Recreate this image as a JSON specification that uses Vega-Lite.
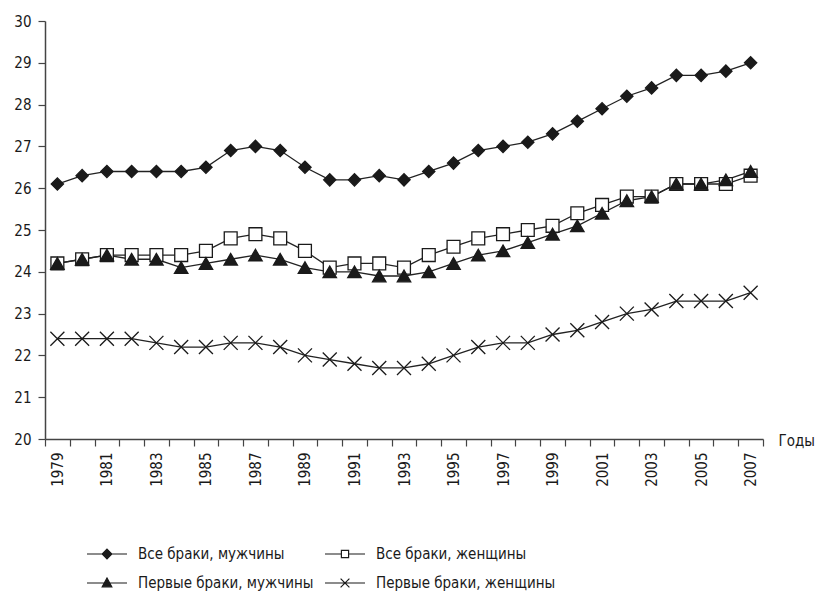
{
  "$schema": "https://vega.github.io/schema/vega-lite/v6.json",
  "autosize": {"type": "none"},
  "width": 718,
  "height": 418,
  "padding": {"left": 45, "top": 21, "right": 58, "bottom": 160},
  "background": "#ffffff",
  "config": {
    "font": "DejaVu Sans Condensed, Liberation Sans Narrow, sans-serif",
    "view": {"stroke": null},
    "axis": {"labelFont": "DejaVu Sans Condensed, Liberation Sans Narrow, sans-serif", "labelFontSize": 15, "labelColor": "#1a1a1a", "domainColor": "#444444", "tickColor": "#444444", "domainWidth": 1.5, "tickWidth": 1.2, "grid": false},
    "legend": {"labelFont": "DejaVu Sans Condensed, Liberation Sans Narrow, sans-serif", "labelFontSize": 15, "labelColor": "#1a1a1a", "labelLimit": 400, "symbolStrokeColor": "#1a1a1a", "symbolStrokeWidth": 1.2}
  },
  "data": {"values": [
    {"year":1979,"series":"Все браки, мужчины","value":26.1},{"year":1980,"series":"Все браки, мужчины","value":26.3},{"year":1981,"series":"Все браки, мужчины","value":26.4},{"year":1982,"series":"Все браки, мужчины","value":26.4},{"year":1983,"series":"Все браки, мужчины","value":26.4},{"year":1984,"series":"Все браки, мужчины","value":26.4},{"year":1985,"series":"Все браки, мужчины","value":26.5},{"year":1986,"series":"Все браки, мужчины","value":26.9},{"year":1987,"series":"Все браки, мужчины","value":27.0},{"year":1988,"series":"Все браки, мужчины","value":26.9},{"year":1989,"series":"Все браки, мужчины","value":26.5},{"year":1990,"series":"Все браки, мужчины","value":26.2},{"year":1991,"series":"Все браки, мужчины","value":26.2},{"year":1992,"series":"Все браки, мужчины","value":26.3},{"year":1993,"series":"Все браки, мужчины","value":26.2},{"year":1994,"series":"Все браки, мужчины","value":26.4},{"year":1995,"series":"Все браки, мужчины","value":26.6},{"year":1996,"series":"Все браки, мужчины","value":26.9},{"year":1997,"series":"Все браки, мужчины","value":27.0},{"year":1998,"series":"Все браки, мужчины","value":27.1},{"year":1999,"series":"Все браки, мужчины","value":27.3},{"year":2000,"series":"Все браки, мужчины","value":27.6},{"year":2001,"series":"Все браки, мужчины","value":27.9},{"year":2002,"series":"Все браки, мужчины","value":28.2},{"year":2003,"series":"Все браки, мужчины","value":28.4},{"year":2004,"series":"Все браки, мужчины","value":28.7},{"year":2005,"series":"Все браки, мужчины","value":28.7},{"year":2006,"series":"Все браки, мужчины","value":28.8},{"year":2007,"series":"Все браки, мужчины","value":29.0},
    {"year":1979,"series":"Все браки, женщины","value":24.2},{"year":1980,"series":"Все браки, женщины","value":24.3},{"year":1981,"series":"Все браки, женщины","value":24.4},{"year":1982,"series":"Все браки, женщины","value":24.4},{"year":1983,"series":"Все браки, женщины","value":24.4},{"year":1984,"series":"Все браки, женщины","value":24.4},{"year":1985,"series":"Все браки, женщины","value":24.5},{"year":1986,"series":"Все браки, женщины","value":24.8},{"year":1987,"series":"Все браки, женщины","value":24.9},{"year":1988,"series":"Все браки, женщины","value":24.8},{"year":1989,"series":"Все браки, женщины","value":24.5},{"year":1990,"series":"Все браки, женщины","value":24.1},{"year":1991,"series":"Все браки, женщины","value":24.2},{"year":1992,"series":"Все браки, женщины","value":24.2},{"year":1993,"series":"Все браки, женщины","value":24.1},{"year":1994,"series":"Все браки, женщины","value":24.4},{"year":1995,"series":"Все браки, женщины","value":24.6},{"year":1996,"series":"Все браки, женщины","value":24.8},{"year":1997,"series":"Все браки, женщины","value":24.9},{"year":1998,"series":"Все браки, женщины","value":25.0},{"year":1999,"series":"Все браки, женщины","value":25.1},{"year":2000,"series":"Все браки, женщины","value":25.4},{"year":2001,"series":"Все браки, женщины","value":25.6},{"year":2002,"series":"Все браки, женщины","value":25.8},{"year":2003,"series":"Все браки, женщины","value":25.8},{"year":2004,"series":"Все браки, женщины","value":26.1},{"year":2005,"series":"Все браки, женщины","value":26.1},{"year":2006,"series":"Все браки, женщины","value":26.1},{"year":2007,"series":"Все браки, женщины","value":26.3},
    {"year":1979,"series":"Первые браки, мужчины","value":24.2},{"year":1980,"series":"Первые браки, мужчины","value":24.3},{"year":1981,"series":"Первые браки, мужчины","value":24.4},{"year":1982,"series":"Первые браки, мужчины","value":24.3},{"year":1983,"series":"Первые браки, мужчины","value":24.3},{"year":1984,"series":"Первые браки, мужчины","value":24.1},{"year":1985,"series":"Первые браки, мужчины","value":24.2},{"year":1986,"series":"Первые браки, мужчины","value":24.3},{"year":1987,"series":"Первые браки, мужчины","value":24.4},{"year":1988,"series":"Первые браки, мужчины","value":24.3},{"year":1989,"series":"Первые браки, мужчины","value":24.1},{"year":1990,"series":"Первые браки, мужчины","value":24.0},{"year":1991,"series":"Первые браки, мужчины","value":24.0},{"year":1992,"series":"Первые браки, мужчины","value":23.9},{"year":1993,"series":"Первые браки, мужчины","value":23.9},{"year":1994,"series":"Первые браки, мужчины","value":24.0},{"year":1995,"series":"Первые браки, мужчины","value":24.2},{"year":1996,"series":"Первые браки, мужчины","value":24.4},{"year":1997,"series":"Первые браки, мужчины","value":24.5},{"year":1998,"series":"Первые браки, мужчины","value":24.7},{"year":1999,"series":"Первые браки, мужчины","value":24.9},{"year":2000,"series":"Первые браки, мужчины","value":25.1},{"year":2001,"series":"Первые браки, мужчины","value":25.4},{"year":2002,"series":"Первые браки, мужчины","value":25.7},{"year":2003,"series":"Первые браки, мужчины","value":25.8},{"year":2004,"series":"Первые браки, мужчины","value":26.1},{"year":2005,"series":"Первые браки, мужчины","value":26.1},{"year":2006,"series":"Первые браки, мужчины","value":26.2},{"year":2007,"series":"Первые браки, мужчины","value":26.4},
    {"year":1979,"series":"Первые браки, женщины","value":22.4},{"year":1980,"series":"Первые браки, женщины","value":22.4},{"year":1981,"series":"Первые браки, женщины","value":22.4},{"year":1982,"series":"Первые браки, женщины","value":22.4},{"year":1983,"series":"Первые браки, женщины","value":22.3},{"year":1984,"series":"Первые браки, женщины","value":22.2},{"year":1985,"series":"Первые браки, женщины","value":22.2},{"year":1986,"series":"Первые браки, женщины","value":22.3},{"year":1987,"series":"Первые браки, женщины","value":22.3},{"year":1988,"series":"Первые браки, женщины","value":22.2},{"year":1989,"series":"Первые браки, женщины","value":22.0},{"year":1990,"series":"Первые браки, женщины","value":21.9},{"year":1991,"series":"Первые браки, женщины","value":21.8},{"year":1992,"series":"Первые браки, женщины","value":21.7},{"year":1993,"series":"Первые браки, женщины","value":21.7},{"year":1994,"series":"Первые браки, женщины","value":21.8},{"year":1995,"series":"Первые браки, женщины","value":22.0},{"year":1996,"series":"Первые браки, женщины","value":22.2},{"year":1997,"series":"Первые браки, женщины","value":22.3},{"year":1998,"series":"Первые браки, женщины","value":22.3},{"year":1999,"series":"Первые браки, женщины","value":22.5},{"year":2000,"series":"Первые браки, женщины","value":22.6},{"year":2001,"series":"Первые браки, женщины","value":22.8},{"year":2002,"series":"Первые браки, женщины","value":23.0},{"year":2003,"series":"Первые браки, женщины","value":23.1},{"year":2004,"series":"Первые браки, женщины","value":23.3},{"year":2005,"series":"Первые браки, женщины","value":23.3},{"year":2006,"series":"Первые браки, женщины","value":23.3},{"year":2007,"series":"Первые браки, женщины","value":23.5}
  ]},
  "encoding": {
    "x": {
      "field": "year", "type": "ordinal",
      "scale": {"type": "band", "paddingInner": 0, "paddingOuter": 0},
      "axis": {
        "title": "Годы", "titleFont": "DejaVu Sans Condensed, Liberation Sans Narrow, sans-serif", "titleFontSize": 15, "titleFontWeight": "normal", "titleColor": "#1a1a1a",
        "titleX": 733, "titleY": 1, "titleAlign": "left", "titleBaseline": "middle", "titleAngle": 0,
        "tickBand": "extent", "tickSize": 7, "labelAngle": -90, "labelAlign": "right", "labelBaseline": "middle", "labelPadding": 6,
        "labelExpr": "datum.value % 2 == 1 ? datum.label : ''"
      }
    },
    "y": {
      "field": "value", "type": "quantitative",
      "scale": {"domain": [20, 30], "nice": false, "zero": false},
      "axis": {"title": null, "values": [20,21,22,23,24,25,26,27,28,29,30], "tickSize": 7, "labelPadding": 7}
    }
  },
  "resolve": {"scale": {"shape": "independent", "fill": "independent", "size": "independent", "stroke": "independent"}},
  "layer": [
    {
      "mark": {"type": "line", "stroke": "#222222", "strokeWidth": 1.3},
      "encoding": {"detail": {"field": "series", "type": "nominal"}}
    },
    {
      "mark": {"type": "point", "filled": true, "stroke": "#1a1a1a", "strokeWidth": 1.3, "opacity": 1},
      "encoding": {
        "shape": {
          "field": "series", "type": "nominal",
          "scale": {"domain": ["Первые браки, женщины", "Первые браки, мужчины", "Все браки, женщины", "Все браки, мужчины"], "range": ["M-1,-1L1,1M-1,1L1,-1", "triangle-up", "square", "diamond"]},
          "legend": null
        },
        "fill": {
          "field": "series", "type": "nominal",
          "scale": {"domain": ["Первые браки, женщины", "Первые браки, мужчины", "Все браки, женщины", "Все браки, мужчины"], "range": ["#1a1a1a", "#1a1a1a", "#ffffff", "#1a1a1a"]},
          "legend": null
        },
        "size": {
          "field": "series", "type": "nominal",
          "scale": {"domain": ["Первые браки, женщины", "Первые браки, мужчины", "Все браки, женщины", "Все браки, мужчины"], "range": [196, 150, 121, 169]},
          "legend": null
        }
      }
    },
    {
      "transform": [{"filter": "false"}],
      "mark": {"type": "point", "filled": true, "strokeWidth": 1.2, "size": 1600, "opacity": 1},
      "encoding": {
        "shape": {
          "field": "series", "type": "nominal",
          "scale": {"domain": ["Все браки, мужчины", "Все браки, женщины", "Первые браки, мужчины", "Первые браки, женщины"], "range": ["M-1,0H1M0,-0.24L0.24,0L0,0.24L-0.24,0Z", "M-1,0H-0.18M0.18,0H1M-0.18,-0.18H0.18V0.18H-0.18Z", "M-1,0H1M0,-0.25L0.24,0.19H-0.24Z", "M-1,0H1M-0.22,-0.22L0.22,0.22M-0.22,0.22L0.22,-0.22"]},
          "legend": {
            "title": null, "orient": "none", "legendX": 41, "legendY": 512, "columns": 2, "direction": "horizontal",
            "padding": 0, "columnPadding": 8, "rowPadding": -4, "labelOffset": 10, "symbolSize": 1600, "symbolStrokeWidth": 1.2, "symbolStrokeColor": "#1a1a1a"
          }
        },
        "fill": {
          "field": "series", "type": "nominal",
          "scale": {"domain": ["Все браки, мужчины", "Все браки, женщины", "Первые браки, мужчины", "Первые браки, женщины"], "range": ["#1a1a1a", "#ffffff", "#1a1a1a", "#1a1a1a"]},
          "legend": {
            "title": null, "orient": "none", "legendX": 41, "legendY": 512, "columns": 2, "direction": "horizontal",
            "padding": 0, "columnPadding": 8, "rowPadding": -4, "labelOffset": 10, "symbolSize": 1600, "symbolStrokeWidth": 1.2, "symbolStrokeColor": "#1a1a1a"
          }
        },
        "stroke": {
          "field": "series", "type": "nominal",
          "scale": {"domain": ["Все браки, мужчины", "Все браки, женщины", "Первые браки, мужчины", "Первые браки, женщины"], "range": ["#1a1a1a", "#1a1a1a", "#1a1a1a", "#1a1a1a"]},
          "legend": {
            "title": null, "orient": "none", "legendX": 41, "legendY": 512, "columns": 2, "direction": "horizontal",
            "padding": 0, "columnPadding": 8, "rowPadding": -4, "labelOffset": 10, "symbolSize": 1600, "symbolStrokeWidth": 1.2, "symbolStrokeColor": "#1a1a1a"
          }
        }
      }
    }
  ]
}
